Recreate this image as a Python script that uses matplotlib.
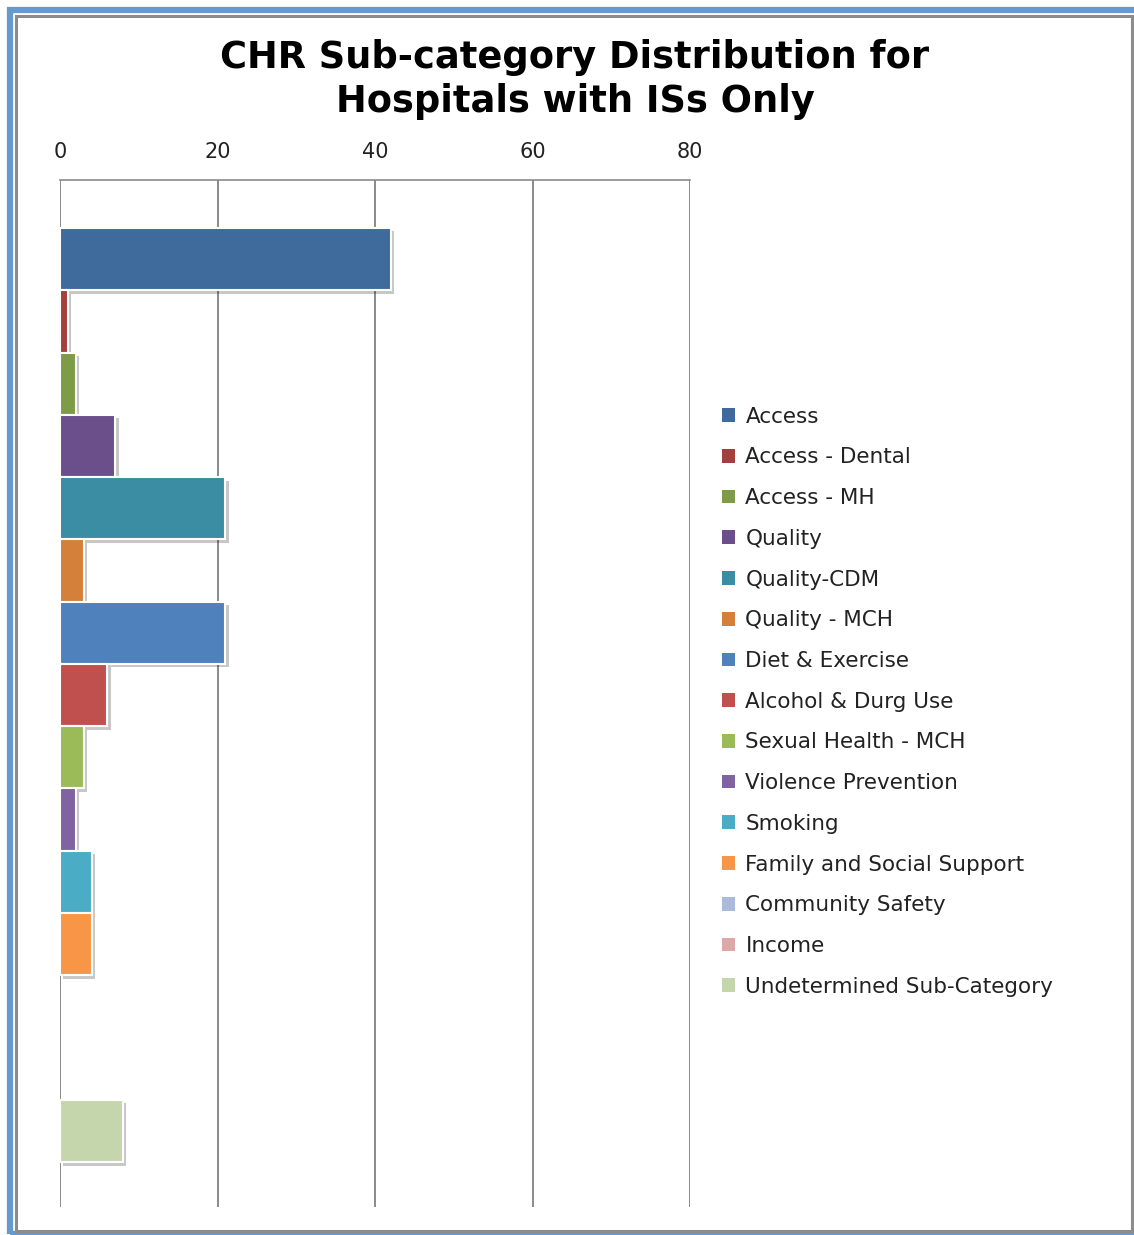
import matplotlib
matplotlib.use("Agg")
import matplotlib.pyplot as plt
import matplotlib.patheffects as pe
from matplotlib.patches import Patch, Rectangle

categories = ["Access", "Access - Dental", "Access - MH", "Quality", "Quality-CDM",
              "Quality - MCH", "Diet & Exercise", "Alcohol & Durg Use",
              "Sexual Health - MCH", "Violence Prevention", "Smoking",
              "Family and Social Support", "Community Safety", "Income",
              "Undetermined Sub-Category"]
values = [42, 1, 2, 7, 21, 3, 21, 6, 3, 2, 4, 4, 0, 0, 8]
colors = ["#3F6A9C", "#A33F3D", "#7E9C48", "#6A4F8B", "#3B8DA3", "#D4803A",
          "#4F81BD", "#C0504D", "#9BBB59", "#8064A2", "#4BACC6", "#F79646",
          "#A9BADB", "#DDA9A8", "#C6D6AC"]
xticks = [0, 20, 40, 60, 80]

W, H = 1134, 1235
fig = plt.figure(figsize=(W / 100, H / 100), dpi=100)

# outer frame: blue line then gray line
fig.patches.append(Rectangle((10 / W, 1 / H), 1.1, 1 - 11 / H, transform=fig.transFigure,
                             fill=False, edgecolor="#6699CC", linewidth=4.5))
fig.patches.append(Rectangle((16 / W, 4 / H), 1116 / W, 1 - 20 / H, transform=fig.transFigure,
                             fill=False, edgecolor="#8C8C8C", linewidth=2.2))

ax = fig.add_axes([60 / W, 1 - 1207 / H, 630 / W, 1027 / H])

shadow = [pe.SimplePatchShadow(offset=(2.5, -2.5), shadow_rgbFace="#000000", alpha=0.22), pe.Normal()]
for i, (v, c) in enumerate(zip(values, colors)):
    if v > 0:
        ax.barh(i, v, height=1.0, color=c, edgecolor="white", linewidth=1.5,
                path_effects=shadow, zorder=3)

ax.set_xlim(0, 80)
ax.set_ylim(14.5 + 0.72, -0.5 - 0.77)
ax.set_xticks(xticks)
ax.xaxis.tick_top()
ax.tick_params(axis="x", length=0, pad=13, labelsize=15, labelcolor="#222222")
ax.set_yticks([])
ax.grid(axis="x", color="#8A8A8A", linewidth=1.4, zorder=0)
for s in ["left", "right", "bottom"]:
    ax.spines[s].set_visible(False)
ax.spines["top"].set_color("#8A8A8A")
ax.spines["top"].set_linewidth(1.2)

fig.text(0.507, 1 - 57 / H, "CHR Sub-category Distribution for", ha="center", va="center",
         fontsize=26.5, fontweight="bold", color="black")
fig.text(0.507, 1 - 102 / H, "Hospitals with ISs Only", ha="center", va="center",
         fontsize=26.5, fontweight="bold", color="black")

handles = [Patch(facecolor=c, edgecolor="none") for c in colors]
fig.legend(handles, categories, loc="upper left", bbox_to_anchor=(711 / W, 1 - 396 / H),
           frameon=False, fontsize=15.5, handlelength=0.6, handleheight=0.6,
           handletextpad=0.5, labelspacing=0.962, borderpad=0, labelcolor="#222222")

fig.savefig("out.png", dpi=100, facecolor="white")
